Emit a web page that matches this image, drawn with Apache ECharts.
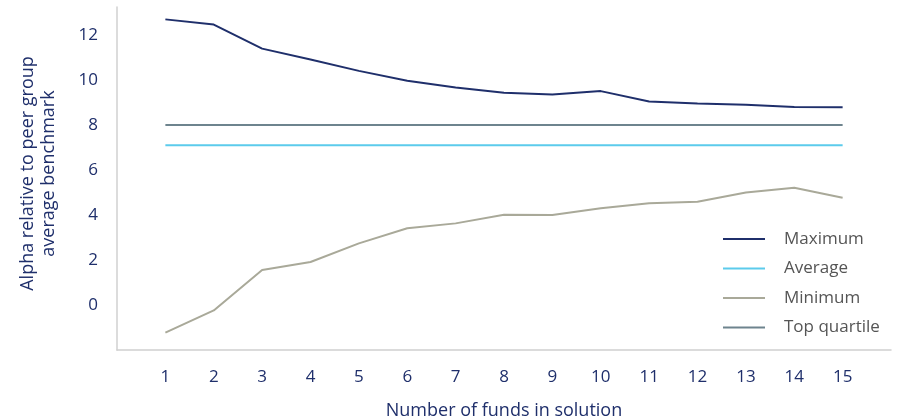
<!DOCTYPE html>
<html>
<head>
<meta charset="utf-8">
<script src="https://cdn.jsdelivr.net/npm/echarts@6/dist/echarts.min.js"></script>
<style>
  html, body { margin: 0; padding: 0; background: #fff; }
  #chart { width: 901px; height: 419px; }
</style>
</head>
<body>
<div id="chart"></div>
<script>
const funds = [1, 2, 3, 4, 5, 6, 7, 8, 9, 10, 11, 12, 13, 14, 15]
const maximum = [12.7, 12.47, 11.4, 10.92, 10.41, 9.97, 9.67, 9.44, 9.36, 9.51, 9.05, 8.96, 8.9, 8.8, 8.79]
const average = [7.1, 7.1, 7.1, 7.1, 7.1, 7.1, 7.1, 7.1, 7.1, 7.1, 7.1, 7.1, 7.1, 7.1, 7.1]
const minimum = [-1.23, -0.24, 1.56, 1.91, 2.74, 3.41, 3.63, 4.01, 4.0, 4.3, 4.52, 4.59, 5.0, 5.21, 4.77]
const topQuartile = [8, 8, 8, 8, 8, 8, 8, 8, 8, 8, 8, 8, 8, 8, 8]
const yTicks = [0, 2, 4, 6, 8, 10, 12]

const navy = '#1f2f6b'
const font = 'Open Sans'

const pairs = vals => funds.map((f, i) => [f, vals[i]])

const lineSeries = (name, vals, color) => ({
  name: name,
  type: 'line',
  data: pairs(vals),
  symbol: 'none',
  lineStyle: { color: color, width: 2 },
  itemStyle: { color: color },
})

const options = {
  animation: false,
  grid: { left: 117, right: 10, top: 7, bottom: 69, outerBoundsMode: 'none', containLabel: false },
  legend: {
    orient: 'vertical',
    left: 718,
    top: 224,
    icon: 'rect',
    itemWidth: 42,
    itemHeight: 2,
    itemGap: 9.5,
    textStyle: { color: '#555', fontSize: 17, fontFamily: font, lineHeight: 20, padding: [0, 0, 0, 14] },
    data: ['Maximum', 'Average', 'Minimum', 'Top quartile'],
  },
  xAxis: {
    type: 'value',
    min: 0,
    max: 16,
    interval: 1,
    name: 'Number of funds in solution',
    nameLocation: 'middle',
    nameGap: 52,
    nameTextStyle: { color: navy, fontSize: 18, fontFamily: font },
    axisLine: { onZero: false, lineStyle: { color: '#d0d0d0', width: 1.5 } },
    axisTick: { show: false },
    splitLine: { show: false },
    axisLabel: {
      color: navy,
      fontSize: 17,
      fontFamily: font,
      margin: 19,
      formatter: v => (funds.indexOf(v) >= 0 ? String(v) : ''),
    },
  },
  yAxis: {
    type: 'value',
    min: -2,
    max: 13.25,
    interval: 2,
    name: 'Alpha relative to peer group\naverage benchmark',
    nameLocation: 'middle',
    nameGap: 58,
    nameTextStyle: { color: navy, fontSize: 18, fontFamily: font, lineHeight: 21, padding: [0, 0, 0, 10] },
    axisLine: { show: true, lineStyle: { color: '#d0d0d0', width: 1.5 } },
    axisTick: { show: false },
    splitLine: { show: false },
    axisLabel: {
      color: navy,
      fontSize: 17,
      fontFamily: font,
      margin: 19,
      showMaxLabel: false,
      formatter: v => (yTicks.indexOf(v) >= 0 ? String(v) : ''),
    },
  },
  series: [
    lineSeries('Maximum', maximum, '#1f2f6b'),
    lineSeries('Average', average, '#5ccbec'),
    lineSeries('Minimum', minimum, '#a9a999'),
    lineSeries('Top quartile', topQuartile, '#6e848e'),
  ],
}

const chart = echarts.init(document.getElementById('chart'))
chart.setOption(options)
window.onresize = function () {
  chart.resize()
}
</script>
</body>
</html>
